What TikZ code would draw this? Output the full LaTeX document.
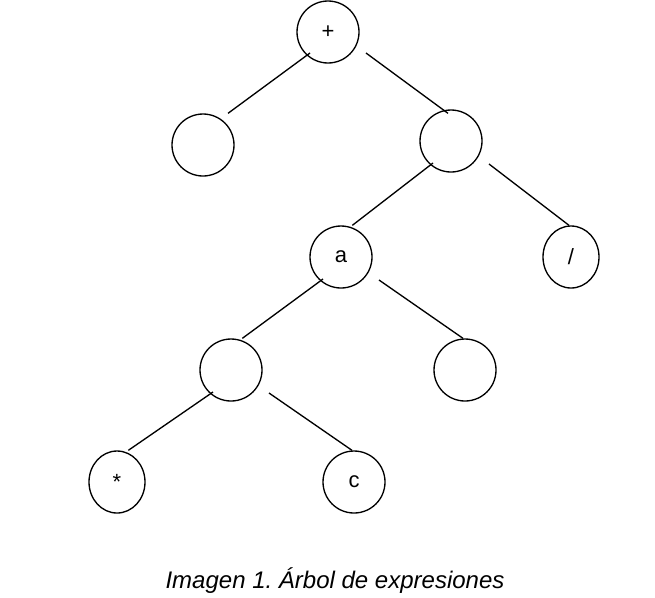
\documentclass[tikz,border=0pt]{standalone}
\usepackage{fontspec}
\setmainfont{Liberation Sans}
\usetikzlibrary{shapes.geometric}
\begin{document}
\begin{tikzpicture}[x=0.75pt, y=-0.75pt, line width=1pt,
  nodo/.style={circle, draw, minimum size=46.5pt, inner sep=0pt, font=\fontsize{16.5}{18}\selectfont},
  hoja/.style={ellipse, draw, minimum width=42pt, minimum height=46.5pt, inner sep=0pt, font=\fontsize{16.5}{18}\selectfont}]
\useasboundingbox (0,0) rectangle (655,597);
\node[nodo] (raiz) at (328,32){+};
\node[nodo] (izq) at (203,145){};
\node[nodo] (der) at (451,141){};
\node[nodo] (a) at (341,257){a};
\node[hoja] (div) at (571,257){/};
\node[nodo] (izqa) at (231,370){};
\node[nodo] (dera) at (465,370){};
\node[hoja] (por) at (117,482){*};
\node[nodo] (c) at (354,482){c};
% ramas izquierdas
\draw ([shift={(-18,21)}]raiz.center) -- ([xshift=18.75pt]izq.north);
\foreach \p/\h in {der/a, a/izqa, izqa/por} \draw ([shift={(-18,22)}]\p.center) -- ([xshift=8.5pt]\h.north);
% ramas derechas
\draw ([shift={(38,21)}]raiz.center) -- ([shift={(-3,4)}]der.north);
\foreach \p/\h in {der/div, a/dera, izqa/c} \draw ([shift={(38,23)}]\p.center) -- ([xshift=-1.5pt]\h.north);
\node (pie) at (335,581){\fontsize{18}{20}\selectfont\itshape Imagen 1.\ Árbol de expresiones};
\end{tikzpicture}
\end{document}
